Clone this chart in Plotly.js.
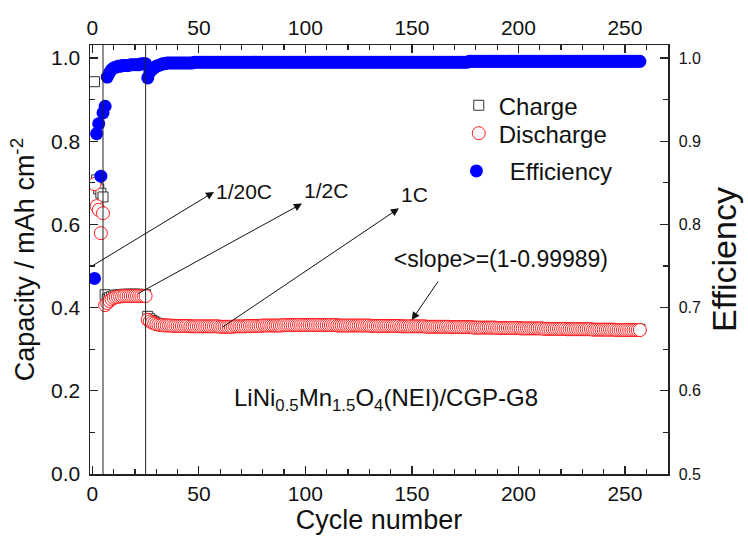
<!DOCTYPE html>
<html><head><meta charset="utf-8">
<script src="https://cdn.plot.ly/plotly-3.0.1.min.js"></script>
<style>html,body{margin:0;padding:0;background:#fff}#chart{width:748px;height:546px}</style>
</head><body><div id="chart"></div>
<script>
// ---- values (cycle 1 .. 257) ----
// 1/20C : cycles 1-5
const chargeC20    = [0.943, 0.707, 0.685, 0.675, 0.666];
const dischargeC20 = [0.697, 0.644, 0.635, 0.579, 0.627];
const effC20       = [0.735, 0.909, 0.921, 0.858, 0.934];
// 1/2C : cycles 6-25
const chargeC2    = [0.431, 0.421, 0.424, 0.426, 0.428, 0.430, 0.430, 0.431, 0.431, 0.432,
                     0.432, 0.432, 0.432, 0.432, 0.432, 0.432, 0.432, 0.431, 0.431, 0.431];
const dischargeC2 = [0.406, 0.411, 0.416, 0.420, 0.423, 0.425, 0.426, 0.427, 0.427, 0.428,
                     0.428, 0.428, 0.428, 0.428, 0.428, 0.428, 0.428, 0.428, 0.428, 0.428];
const effC2       = [0.942, 0.977, 0.982, 0.986, 0.988, 0.989, 0.990, 0.990, 0.991, 0.991,
                     0.991, 0.991, 0.992, 0.992, 0.992, 0.992, 0.992, 0.993, 0.993, 0.993];
// 1C : cycles 26-257
const charge1C = [
 0.379,0.373,0.369,0.366,0.363,0.362,0.361,0.360,0.359,0.359,
 0.359,0.359,0.358,0.358,0.358,0.358,0.358,0.358,0.358,0.358,
 0.357,0.357,0.357,0.357,0.357,0.357,0.357,0.357,0.357,0.357,
 0.357,0.357,0.357,0.357,0.356,0.356,0.356,0.356,0.356,0.356,
 0.356,0.357,0.357,0.357,0.357,0.357,0.357,0.358,0.358,0.358,
 0.358,0.358,0.358,0.358,0.359,0.359,0.359,0.359,0.359,0.359,
 0.359,0.359,0.359,0.359,0.360,0.360,0.360,0.360,0.360,0.360,
 0.360,0.360,0.360,0.360,0.360,0.360,0.360,0.360,0.360,0.360,
 0.360,0.360,0.360,0.360,0.360,0.360,0.360,0.360,0.360,0.359,
 0.359,0.359,0.359,0.359,0.359,0.359,0.359,0.359,0.359,0.359,
 0.359,0.359,0.359,0.359,0.359,0.358,0.358,0.358,0.358,0.358,
 0.358,0.358,0.358,0.358,0.358,0.358,0.358,0.358,0.358,0.357,
 0.357,0.357,0.357,0.357,0.357,0.357,0.357,0.357,0.357,0.357,
 0.357,0.356,0.356,0.356,0.356,0.356,0.356,0.356,0.356,0.356,
 0.356,0.356,0.355,0.355,0.355,0.355,0.355,0.355,0.355,0.355,
 0.355,0.355,0.355,0.354,0.354,0.354,0.354,0.354,0.354,0.354,
 0.354,0.354,0.354,0.354,0.353,0.353,0.353,0.353,0.353,0.353,
 0.353,0.353,0.353,0.353,0.353,0.352,0.352,0.352,0.352,0.352,
 0.352,0.352,0.352,0.352,0.352,0.352,0.351,0.351,0.351,0.351,
 0.351,0.351,0.351,0.351,0.351,0.351,0.351,0.350,0.350,0.350,
 0.350,0.350,0.350,0.350,0.350,0.350,0.350,0.350,0.350,0.349,
 0.349,0.349,0.349,0.349,0.349,0.349,0.349,0.349,0.349,0.349,
 0.348,0.348,0.348,0.348,0.348,0.348,0.348,0.348,0.348,0.348,
 0.348,0.348];
const discharge1C = [
 0.371,0.367,0.364,0.362,0.360,0.359,0.358,0.358,0.357,0.357,
 0.357,0.357,0.356,0.356,0.356,0.356,0.356,0.356,0.356,0.356,
 0.355,0.355,0.355,0.355,0.355,0.355,0.355,0.355,0.355,0.355,
 0.355,0.355,0.355,0.355,0.354,0.354,0.354,0.354,0.354,0.354,
 0.354,0.355,0.355,0.355,0.355,0.355,0.355,0.356,0.356,0.356,
 0.356,0.356,0.356,0.356,0.357,0.357,0.357,0.357,0.357,0.357,
 0.357,0.357,0.357,0.357,0.358,0.358,0.358,0.358,0.358,0.358,
 0.358,0.358,0.358,0.358,0.358,0.358,0.358,0.358,0.358,0.358,
 0.358,0.358,0.358,0.358,0.358,0.358,0.358,0.358,0.358,0.357,
 0.357,0.357,0.357,0.357,0.357,0.357,0.357,0.357,0.357,0.357,
 0.357,0.357,0.357,0.357,0.357,0.356,0.356,0.356,0.356,0.356,
 0.356,0.356,0.356,0.356,0.356,0.356,0.356,0.356,0.356,0.355,
 0.355,0.355,0.355,0.355,0.355,0.355,0.355,0.355,0.355,0.355,
 0.355,0.354,0.354,0.354,0.354,0.354,0.354,0.354,0.354,0.354,
 0.354,0.354,0.353,0.353,0.353,0.353,0.353,0.353,0.353,0.353,
 0.353,0.353,0.353,0.352,0.352,0.352,0.352,0.352,0.352,0.352,
 0.352,0.352,0.352,0.352,0.351,0.351,0.351,0.351,0.351,0.351,
 0.351,0.351,0.351,0.351,0.351,0.350,0.350,0.350,0.350,0.350,
 0.350,0.350,0.350,0.350,0.350,0.350,0.349,0.349,0.349,0.349,
 0.349,0.349,0.349,0.349,0.349,0.349,0.349,0.348,0.348,0.348,
 0.348,0.348,0.348,0.348,0.348,0.348,0.348,0.348,0.348,0.347,
 0.347,0.347,0.347,0.347,0.347,0.347,0.347,0.347,0.347,0.347,
 0.346,0.346,0.346,0.346,0.346,0.346,0.346,0.346,0.346,0.346,
 0.346,0.346];
const eff1C = [
 0.976,0.983,0.986,0.988,0.990,0.991,0.992,0.993,0.993,0.994,
 0.994,0.994,0.994,0.994,0.994,0.994,0.994,0.994,0.994,0.994,
 0.994,0.994,0.995,0.995,0.995,0.995,0.995,0.995,0.995,0.995,
 0.995,0.995,0.995,0.995,0.995,0.995,0.995,0.995,0.995,0.995,
 0.995,0.995,0.995,0.995,0.995,0.995,0.995,0.995,0.995,0.995,
 0.995,0.995,0.995,0.995,0.995,0.995,0.995,0.995,0.995,0.995,
 0.995,0.995,0.995,0.995,0.995,0.995,0.995,0.995,0.995,0.995,
 0.995,0.995,0.995,0.995,0.995,0.995,0.995,0.995,0.995,0.995,
 0.995,0.995,0.995,0.995,0.995,0.995,0.995,0.995,0.995,0.995,
 0.995,0.995,0.995,0.995,0.995,0.995,0.995,0.995,0.995,0.995,
 0.995,0.995,0.995,0.995,0.995,0.995,0.995,0.995,0.995,0.995,
 0.995,0.995,0.995,0.995,0.995,0.995,0.995,0.995,0.995,0.995,
 0.995,0.995,0.995,0.995,0.995,0.995,0.995,0.995,0.995,0.995,
 0.995,0.995,0.995,0.995,0.995,0.995,0.995,0.995,0.995,0.995,
 0.995,0.995,0.995,0.995,0.995,0.995,0.995,0.995,0.995,0.995,
 0.995,0.996,0.996,0.996,0.996,0.996,0.996,0.996,0.996,0.996,
 0.996,0.996,0.996,0.996,0.996,0.996,0.996,0.996,0.996,0.996,
 0.996,0.996,0.996,0.996,0.996,0.996,0.996,0.996,0.996,0.996,
 0.996,0.996,0.996,0.996,0.996,0.996,0.996,0.996,0.996,0.996,
 0.996,0.996,0.996,0.996,0.996,0.996,0.996,0.996,0.996,0.996,
 0.996,0.996,0.996,0.996,0.996,0.996,0.996,0.996,0.996,0.996,
 0.996,0.996,0.996,0.996,0.996,0.996,0.996,0.996,0.996,0.996,
 0.996,0.996,0.996,0.996,0.996,0.996,0.996,0.996,0.996,0.996,
 0.996,0.996];

const rateChanges = [5, 25];   // cycles where the C-rate changes
const seriesNames = ['Charge', 'Discharge', '\u00a0\u00a0Efficiency'];

const charge = chargeC20.concat(chargeC2, charge1C);
const discharge = dischargeC20.concat(dischargeC2, discharge1C);
const efficiency = effC20.concat(effC2, eff1C);
const cycles = charge.map((_, i) => i + 1);

const FONT = 'Liberation Sans, Arial, sans-serif';

const traces = [
  {x: cycles, y: charge, name: seriesNames[0], type: 'scatter', mode: 'markers', showlegend: true,
   xaxis: 'x', yaxis: 'y', legend: 'legend',
   marker: {symbol: 'square', size: 10, color: '#ffffff', line: {color: '#333333', width: 1}}},
  {x: cycles, y: discharge, name: seriesNames[1], type: 'scatter', mode: 'markers', showlegend: true,
   xaxis: 'x', yaxis: 'y', legend: 'legend2',
   marker: {symbol: 'circle', size: 13, color: '#ffffff', line: {color: '#ff1a1a', width: 1}}},
  {x: cycles, y: efficiency, name: seriesNames[2], type: 'scatter', mode: 'markers', showlegend: true,
   xaxis: 'x2', yaxis: 'y2', legend: 'legend3',
   marker: {symbol: 'circle', size: 13, color: '#0000ff'}}
];

const axCommon = {
  showline: true, linecolor: '#222', linewidth: 1.5, mirror: false,
  showgrid: false, zeroline: false, ticks: 'inside', ticklen: 8, tickwidth: 1.2,
  tickcolor: '#222', color: '#111'
};
const xr = [-1.1, 270.2];
const legendBase = {xanchor: 'left', yanchor: 'top', font: {size: 24, family: FONT, color: '#111'},
                    bgcolor: 'rgba(0,0,0,0)', visible: true};
const arrowStyle = {showarrow: true, arrowcolor: '#111', arrowwidth: 1,
                    arrowhead: 2, arrowsize: 1.6, startarrowhead: 2, startarrowsize: 1.6,
                    standoff: 0, startstandoff: 0, font: {size: 21, family: FONT, color: '#111'}};

const layout = {
  width: 748, height: 546,
  margin: {l: 90, r: 80, t: 45, b: 72},
  paper_bgcolor: '#fff', plot_bgcolor: '#fff',
  font: {family: FONT, color: '#111'},
  showlegend: true,
  xaxis: Object.assign({}, axCommon, {
    range: xr, tick0: 0, dtick: 50, tickfont: {size: 21, family: FONT},
    minor: {dtick: 10, ticks: 'inside', ticklen: 5, tickwidth: 1.2, tickcolor: '#222'},
    title: {text: 'Cycle number', font: {size: 27, family: FONT}, standoff: 0}
  }),
  xaxis2: Object.assign({}, axCommon, {
    range: xr, tick0: 0, dtick: 50, side: 'top', overlaying: 'x', anchor: 'y2',
    tickfont: {size: 21, family: FONT},
    minor: {dtick: 10, ticks: 'inside', ticklen: 5, tickwidth: 1.2, tickcolor: '#222'}
  }),
  yaxis: Object.assign({}, axCommon, {
    range: [0, 1.0313], tick0: 0, dtick: 0.2, tickformat: '.1f',
    tickfont: {size: 21, family: FONT}, ticklabelstandoff: 4,
    minor: {dtick: 0.1, ticks: 'inside', ticklen: 5, tickwidth: 1.2, tickcolor: '#222'},
    title: {text: 'Capacity / mAh cm<sup>-2</sup>', font: {size: 27, family: FONT}, standoff: 8}
  }),
  yaxis2: Object.assign({}, axCommon, {
    range: [0.5, 1.0156], tick0: 0.5, dtick: 0.1, tickformat: '.1f',
    side: 'right', overlaying: 'y', anchor: 'x2',
    tickfont: {size: 16, family: FONT}, ticklabelstandoff: 6,
    minor: {dtick: 0.05, ticks: 'inside', ticklen: 5, tickwidth: 1.2, tickcolor: '#222'},
    title: {text: 'Efficiency', font: {size: 34, family: FONT}, standoff: 12}
  }),
  legend:  Object.assign({}, legendBase, {x: 0.638, y: 0.911}),
  legend2: Object.assign({}, legendBase, {x: 0.638, y: 0.846}),
  legend3: Object.assign({}, legendBase, {x: 0.634, y: 0.758}),
  shapes: rateChanges.map(c => ({type: 'line', xref: 'x', yref: 'paper', x0: c, x1: c, y0: 0, y1: 1,
                                 layer: 'above', line: {color: '#222', width: 1}})),
  annotations: [
    // rate labels: arrow drawn from the data toward the label (head at label side)
    Object.assign({}, arrowStyle, {xref: 'x', yref: 'y', axref: 'x', ayref: 'y',
      x: 0.5, y: 0.502, ax: 57.1, ay: 0.678, xanchor: 'left', yanchor: 'middle',
      arrowside: 'start', text: '1/20C'}),
    Object.assign({}, arrowStyle, {xref: 'x', yref: 'y', axref: 'x', ayref: 'y',
      x: 21.6, y: 0.434, ax: 98.4, ay: 0.650, xanchor: 'left', yanchor: 'bottom',
      arrowside: 'start', text: '1/2C'}),
    Object.assign({}, arrowStyle, {xref: 'x', yref: 'y', axref: 'x', ayref: 'y',
      x: 61.1, y: 0.353, ax: 143.9, ay: 0.6387, xanchor: 'left', yanchor: 'bottom',
      arrowside: 'start', text: '1C'}),
    // slope label with arrow pointing at the 1C discharge band
    Object.assign({}, arrowStyle, {xref: 'x', yref: 'y', axref: 'x', ayref: 'y',
      x: 149.9, y: 0.370, ax: 162.2, ay: 0.4623, xanchor: 'center', yanchor: 'bottom',
      width: 340, height: 34, align: 'right', valign: 'top', arrowside: 'end',
      text: '&lt;slope&gt;=(1-0.99989)', font: {size: 23, family: FONT, color: '#111'}}),
    {xref: 'x', yref: 'y', x: 137.6, y: 0.178, xanchor: 'center', yanchor: 'middle', showarrow: false,
     text: 'LiNi<sub>0.5</sub>Mn<sub>1.5</sub>O<sub>4</sub>(NEI)/CGP-G8', font: {size: 24, family: FONT, color: '#111'}}
  ]
};

Plotly.newPlot('chart', traces, layout, {displayModeBar: false, staticPlot: true});
</script>
</body></html>
